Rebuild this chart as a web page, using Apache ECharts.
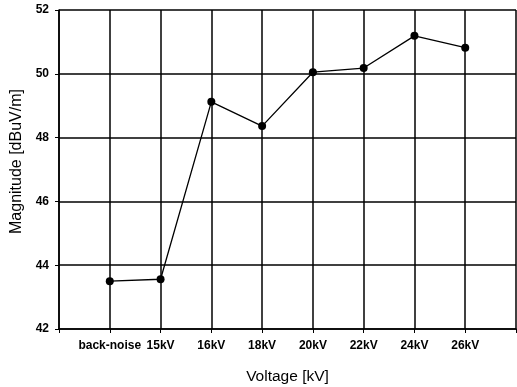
<!DOCTYPE html>
<html>
<head>
<meta charset="utf-8">
<script src="https://cdn.jsdelivr.net/npm/echarts@6/dist/echarts.min.js"></script>
<style>
  html, body { margin: 0; padding: 0; background: #fff; }
  #main { width: 517px; height: 387px; }
</style>
</head>
<body>
<div id="main"></div>
<script>
// blank category at each end so the points sit on the inner grid lines
var categories = ['', 'back-noise', '15kV', '16kV', '18kV', '20kV', '22kV', '24kV', '26kV', ''];
var magnitude = [null, 43.5, 43.56, 49.12, 48.36, 50.05, 50.18, 51.19, 50.82, null];
var yTicks = [42, 44, 46, 48, 50, 52];

var myChart = echarts.init(document.getElementById('main'));
var font = 'Arial, "Liberation Sans", sans-serif';

var option = {
  animation: false,
  backgroundColor: '#fff',
  grid: { left: 59, right: 1, top: 10, bottom: 58, outerBoundsMode: 'none' },
  xAxis: {
    type: 'category',
    data: categories,
    boundaryGap: false,
    name: 'Voltage [kV]',
    nameLocation: 'middle',
    nameGap: 40,
    nameTextStyle: { fontFamily: font, fontSize: 15.5, color: '#000' },
    axisLine: { lineStyle: { color: '#000', width: 1.5 } },
    axisTick: { show: true, length: 4, inside: false, lineStyle: { color: '#000' } },
    axisLabel: {
      fontFamily: font, fontSize: 12, color: '#000', fontWeight: 'bold',
      margin: 11, interval: 0
    },
    splitLine: { show: true, lineStyle: { color: '#000', width: 1.5 } }
  },
  yAxis: {
    type: 'value',
    min: yTicks[0],
    max: yTicks[yTicks.length - 1],
    interval: 2,
    name: 'Magnitude [dBuV/m]',
    nameLocation: 'middle',
    nameGap: 34,
    nameTextStyle: { fontFamily: font, fontSize: 16, color: '#000', padding: [0, 0, 0, 16] },
    axisLine: { show: true, lineStyle: { color: '#000', width: 1.5 } },
    axisTick: { show: true, length: 4, lineStyle: { color: '#000' } },
    axisLabel: { fontFamily: font, fontSize: 12, color: '#000', fontWeight: 'bold', margin: 10 },
    splitLine: { show: true, lineStyle: { color: '#000', width: 1.5 } }
  },
  series: [{
    type: 'line',
    data: magnitude,
    symbol: 'circle',
    symbolSize: 8,
    connectNulls: false,
    lineStyle: { color: '#000', width: 1.3 },
    itemStyle: { color: '#000' }
  }]
};

myChart.setOption(option);
</script>
</body>
</html>
